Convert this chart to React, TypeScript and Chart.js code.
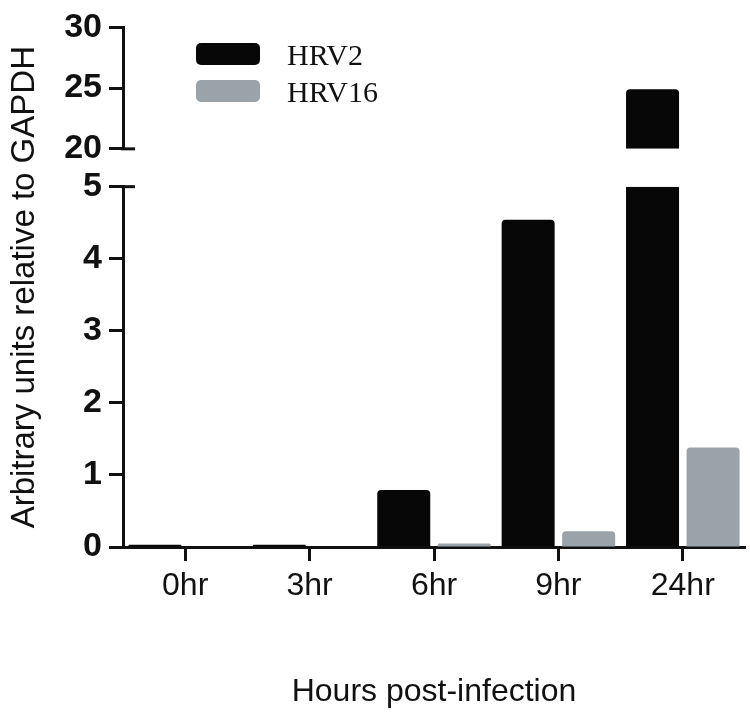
import { useEffect, useRef } from 'react';
import { Chart, registerables } from 'chart.js';

Chart.register(...registerables);

const categories = ['0hr', '3hr', '6hr', '9hr', '24hr'];
const hrv2 = [0.03, 0.03, 0.79, 4.54, 24.9];
const hrv16 = [0, 0, 0.05, 0.22, 1.38];
const seriesNames = ['HRV2', 'HRV16'];
const seriesColors = ['#070707', '#99a3a9'];
const lowerRange = [0, 5];
const upperRange = [20, 30];
const lowerStep = 1;
const upperStep = 5;
const yTitle = 'Arbitrary units relative to GAPDH';
const xTitle = 'Hours post-infection';

const SANS = '"Liberation Sans", Arial, sans-serif';
const SERIF = '"Liberation Serif", "Times New Roman", serif';
const INK = '#111111';

const lowerPart = (vals: number[]) => vals.map((v) => Math.min(v, lowerRange[1]));
const upperPart = (vals: number[]) =>
  vals.map((v) => (v > upperRange[0] ? [upperRange[0], v] : null));

const breakMarks = {
  id: 'breakMarks',
  afterDraw(chart: any) {
    const { ctx, chartArea } = chart;
    const yl = chart.scales.y;
    const yu = chart.scales.yTop;
    ctx.save();
    ctx.strokeStyle = INK;
    ctx.lineWidth = 3;
    [yu.getPixelForValue(upperRange[0]), yl.getPixelForValue(lowerRange[1])].forEach((p: number) => {
      ctx.beginPath();
      ctx.moveTo(chartArea.left - 2, p);
      ctx.lineTo(chartArea.left + 12, p);
      ctx.stroke();
    });
    ctx.restore();
  },
};

const customLegend = {
  id: 'customLegend',
  afterDraw(chart: any) {
    const { ctx } = chart;
    ctx.save();
    seriesNames.forEach((name, i) => {
      const top = 43 + i * 37;
      ctx.fillStyle = seriesColors[i];
      ctx.beginPath();
      (ctx as any).roundRect(196, top, 64, 22, 5);
      ctx.fill();
      ctx.fillStyle = INK;
      ctx.font = `30px ${SERIF}`;
      ctx.textBaseline = 'alphabetic';
      ctx.textAlign = 'left';
      ctx.fillText(name, 287, top + 22);
    });
    ctx.restore();
  },
};

export default function App() {
  const ref = useRef<HTMLCanvasElement | null>(null);

  useEffect(() => {
    if (!ref.current) return;
    const radiusFor = (vals: number[]) => (c: any) =>
      vals[c.dataIndex] > lowerRange[1] ? 0 : 4;

    const yTickFont = { family: SANS, size: 34, weight: 'bold' };

    const chart = new Chart(ref.current, {
      type: 'bar',
      data: {
        labels: categories,
        datasets: [
          {
            label: seriesNames[0],
            data: lowerPart(hrv2),
            backgroundColor: seriesColors[0],
            yAxisID: 'y',
            stack: 'a',
            borderRadius: radiusFor(hrv2),
          },
          {
            label: seriesNames[0] + ' (upper)',
            data: upperPart(hrv2) as any,
            backgroundColor: seriesColors[0],
            yAxisID: 'yTop',
            stack: 'a',
            borderRadius: 4,
          },
          {
            label: seriesNames[1],
            data: lowerPart(hrv16),
            backgroundColor: seriesColors[1],
            yAxisID: 'y',
            stack: 'b',
            borderRadius: radiusFor(hrv16),
          },
          {
            label: seriesNames[1] + ' (upper)',
            data: upperPart(hrv16) as any,
            backgroundColor: seriesColors[1],
            yAxisID: 'yTop',
            stack: 'b',
            borderRadius: 4,
          },
        ],
      },
      options: {
        animation: false,
        responsive: false,
        events: [],
        layout: { padding: { left: 5, top: 25, right: 5, bottom: 0 } },
        datasets: {
          bar: { categoryPercentage: 0.973, barPercentage: 0.876 },
        },
        plugins: {
          legend: { display: false },
          tooltip: { enabled: false },
        },
        scales: {
          x: {
            type: 'category',
            offset: true,
            grid: {
              display: true,
              drawOnChartArea: false,
              drawTicks: true,
              tickLength: 14,
              tickWidth: 3,
              tickColor: INK,
              offset: false,
            },
            border: { display: true, color: INK, width: 3 },
            ticks: {
              color: INK,
              font: { family: SANS, size: 32 },
              padding: 6,
              maxRotation: 0,
              autoSkip: false,
            },
            title: {
              display: true,
              text: xTitle,
              color: INK,
              font: { family: SANS, size: 32 },
              padding: { top: 0, bottom: 10 },
            },
            afterFit: (s: any) => {
              s.height = 174;
            },
          },
          yTitleAxis: {
            type: 'linear',
            position: 'left',
            weight: 10,
            display: true,
            grid: { display: false },
            border: { display: false },
            ticks: { display: false },
            title: {
              display: true,
              text: yTitle,
              color: INK,
              font: { family: SANS, size: 33 },
              padding: 0,
            },
            afterFit: (s: any) => {
              s.width = 46;
            },
          },
          yTop: {
            type: 'linear',
            position: 'left',
            stack: 'left',
            stackWeight: 122,
            weight: 3,
            min: upperRange[0],
            max: upperRange[1],
            stacked: false,
            ticks: {
              stepSize: upperStep,
              autoSkip: false,
              color: INK,
              font: yTickFont,
              padding: 7,
            },
            grid: {
              drawOnChartArea: false,
              tickLength: 14,
              tickWidth: 3,
              tickColor: INK,
            },
            border: { display: true, width: 3, color: INK },
            afterFit: (s: any) => {
              s.width = 72;
            },
          },
          yGap: {
            type: 'linear',
            position: 'left',
            stack: 'left',
            stackWeight: 38,
            weight: 2,
            min: 0,
            max: 1,
            display: true,
            ticks: { display: false },
            grid: { display: false },
            border: { display: false },
            afterFit: (s: any) => {
              s.width = 72;
            },
          },
          y: {
            type: 'linear',
            position: 'left',
            stack: 'left',
            stackWeight: 362,
            weight: 1,
            min: lowerRange[0],
            max: lowerRange[1],
            stacked: false,
            ticks: {
              stepSize: lowerStep,
              autoSkip: false,
              color: INK,
              font: yTickFont,
              padding: 7,
            },
            grid: {
              drawOnChartArea: false,
              tickLength: 14,
              tickWidth: 3,
              tickColor: INK,
            },
            border: { display: true, width: 3, color: INK },
            afterFit: (s: any) => {
              s.width = 72;
            },
          },
        } as any,
      },
      plugins: [breakMarks, customLegend],
    });
    return () => chart.destroy();
  }, []);

  return (
    <div
      style={{
        position: 'fixed',
        left: 0,
        top: 0,
        width: 750,
        height: 721,
        background: '#ffffff',
      }}
    >
      <canvas ref={ref} width={750} height={721} style={{ display: 'block' }} />
    </div>
  );
}
